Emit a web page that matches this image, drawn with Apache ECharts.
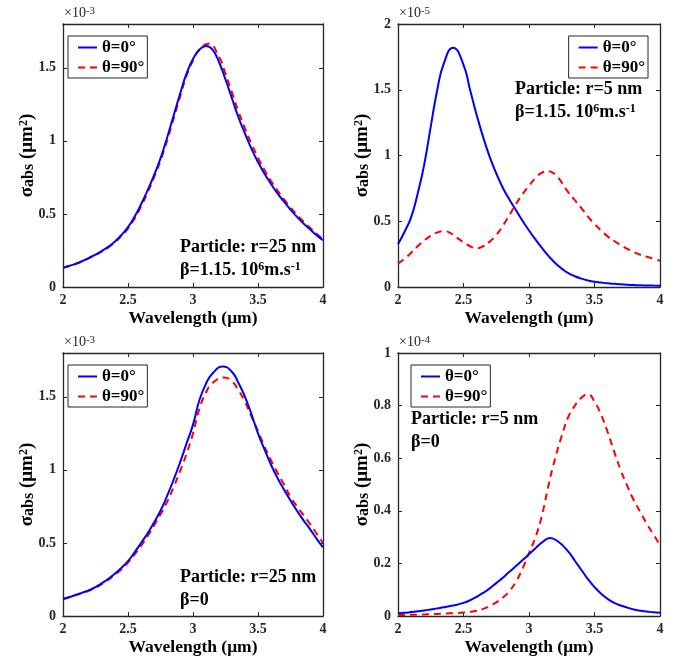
<!DOCTYPE html>
<html><head><meta charset="utf-8">
<script src="https://cdn.jsdelivr.net/npm/echarts@6/dist/echarts.min.js"></script>
<style>html,body{margin:0;padding:0;background:#fff}#c{width:675px;height:663px}</style>
</head><body><div id="c"></div>
<script>
// ---- data ----
const seriesNames = ['θ=0°', 'θ=90°'];
const xTickLabels = ['2', '2.5', '3', '3.5', '4'];
const exponents = ['-3', '-5', '-3', '-4'];
const yMaxes = [1.8, 2, 1.8, 1];
const yIntervals = [0.5, 0.5, 0.5, 0.2];

// Panel 1: r=25 nm, beta=1.15e6 m/s (x1e-3 um^2)
const p1_wl0 = [2.00,2.05,2.10,2.15,2.20,2.25,2.30,2.35,2.40,2.45,2.50,2.55,2.60,2.65,2.70,2.75,2.80,2.85,2.90,2.95,
  3.00,3.05,3.10,3.15,3.20,3.25,3.30,3.35,3.40,3.45,3.50,3.55,3.60,3.65,3.70,3.75,3.80,3.85,3.90,3.95,4.00];
const p1_theta0 = [0.132,0.145,0.160,0.178,0.200,0.222,0.247,0.276,0.312,0.356,0.41,0.48,0.565,0.66,0.765,0.88,1.02,1.17,1.32,1.46,
  1.56,1.625,1.65,1.625,1.54,1.42,1.29,1.16,1.05,0.945,0.855,0.775,0.705,0.64,0.585,0.53,0.48,0.435,0.395,0.355,0.32];
const p1_wl90 = [2.00,2.05,2.10,2.15,2.20,2.25,2.30,2.35,2.40,2.45,2.50,2.55,2.60,2.65,2.70,2.75,2.80,2.85,2.90,2.95,
  3.00,3.05,3.12,3.20,3.25,3.30,3.35,3.40,3.45,3.50,3.55,3.60,3.65,3.70,3.75,3.80,3.85,3.90,3.95,4.00];
const p1_theta90 = [0.132,0.144,0.158,0.176,0.197,0.219,0.243,0.271,0.306,0.349,0.40,0.468,0.55,0.645,0.75,0.865,1.00,1.15,1.30,1.445,
  1.55,1.625,1.665,1.575,1.46,1.33,1.20,1.085,0.98,0.885,0.80,0.725,0.66,0.60,0.545,0.495,0.448,0.405,0.365,0.33];

// Panel 2: r=5 nm, beta=1.15e6 m/s (x1e-5 um^2)
const p2_wl0 = [2.00,2.05,2.10,2.15,2.20,2.25,2.30,2.35,2.42,2.50,2.55,2.60,2.65,2.70,2.75,2.80,2.85,2.90,2.95,
  3.00,3.05,3.10,3.15,3.20,3.25,3.30,3.35,3.40,3.45,3.50,3.55,3.60,3.65,3.70,3.75,3.80,3.85,3.90,3.95,4.00];
const p2_theta0 = [0.325,0.42,0.53,0.71,0.93,1.22,1.50,1.70,1.82,1.69,1.50,1.31,1.14,0.99,0.865,0.755,0.665,0.585,0.505,
  0.43,0.36,0.295,0.235,0.183,0.14,0.105,0.082,0.064,0.05,0.04,0.034,0.028,0.024,0.02,0.017,0.015,0.013,0.012,0.011,0.01];
const p2_wl90 = [2.00,2.05,2.10,2.15,2.20,2.25,2.30,2.35,2.40,2.45,2.50,2.55,2.60,2.65,2.70,2.75,2.80,2.85,2.90,2.95,
  3.00,3.05,3.10,3.15,3.20,3.25,3.30,3.35,3.40,3.45,3.50,3.55,3.60,3.65,3.70,3.75,3.80,3.85,3.90,3.95,4.00];
const p2_theta90 = [0.178,0.215,0.26,0.31,0.355,0.39,0.415,0.425,0.41,0.375,0.34,0.31,0.295,0.31,0.345,0.395,0.465,0.545,0.63,0.705,
  0.77,0.83,0.87,0.88,0.855,0.795,0.72,0.66,0.60,0.535,0.48,0.43,0.385,0.35,0.32,0.29,0.266,0.245,0.23,0.215,0.20];

// Panel 3: r=25 nm, beta=0 (x1e-3 um^2)
const p3_wl0 = [2.00,2.05,2.10,2.15,2.20,2.25,2.30,2.35,2.40,2.45,2.50,2.55,2.60,2.65,2.70,2.75,2.80,2.85,2.90,2.95,
  3.00,3.05,3.10,3.15,3.23,3.30,3.35,3.40,3.45,3.50,3.55,3.60,3.65,3.70,3.75,3.80,3.85,3.90,3.95,4.00];
const p3_theta0 = [0.116,0.13,0.145,0.16,0.177,0.198,0.225,0.255,0.29,0.33,0.375,0.435,0.50,0.565,0.64,0.72,0.82,0.93,1.05,1.18,
  1.31,1.48,1.59,1.66,1.708,1.67,1.595,1.50,1.38,1.25,1.14,1.035,0.945,0.865,0.79,0.72,0.655,0.595,0.53,0.47];
const p3_wl90 = [2.00,2.05,2.10,2.15,2.20,2.25,2.30,2.35,2.40,2.45,2.50,2.55,2.60,2.65,2.70,2.75,2.80,2.85,2.90,2.95,
  3.00,3.05,3.10,3.15,3.24,3.30,3.35,3.40,3.45,3.50,3.55,3.60,3.65,3.70,3.75,3.80,3.85,3.90,3.95,4.00];
const p3_theta90 = [0.115,0.128,0.143,0.158,0.173,0.194,0.22,0.249,0.283,0.32,0.365,0.42,0.48,0.545,0.62,0.695,0.78,0.88,0.99,1.11,
  1.25,1.42,1.53,1.595,1.632,1.605,1.545,1.465,1.365,1.265,1.16,1.065,0.98,0.90,0.815,0.75,0.69,0.63,0.565,0.50];

// Panel 4: r=5 nm, beta=0 (x1e-4 um^2)
const p4_wl0 = [2.00,2.05,2.10,2.15,2.20,2.25,2.30,2.35,2.40,2.45,2.50,2.55,2.60,2.65,2.70,2.75,2.80,2.85,2.90,2.95,
  3.00,3.05,3.10,3.16,3.22,3.30,3.35,3.40,3.45,3.50,3.55,3.60,3.65,3.70,3.75,3.80,3.85,3.90,3.95,4.00];
const p4_theta0 = [0.010,0.012,0.015,0.018,0.021,0.025,0.029,0.033,0.038,0.043,0.050,0.06,0.073,0.088,0.105,0.125,0.145,0.168,0.19,0.212,
  0.235,0.258,0.28,0.297,0.284,0.245,0.21,0.175,0.14,0.11,0.085,0.065,0.05,0.04,0.032,0.025,0.02,0.017,0.014,0.012];
const p4_wl90 = [2.00,2.05,2.10,2.15,2.20,2.25,2.30,2.35,2.40,2.45,2.50,2.55,2.60,2.65,2.70,2.75,2.80,2.85,2.90,2.95,
  3.00,3.05,3.10,3.15,3.20,3.25,3.30,3.35,3.40,3.45,3.50,3.55,3.60,3.65,3.70,3.75,3.80,3.85,3.90,3.95,4.00];
const p4_theta90 = [0.004,0.004,0.005,0.005,0.006,0.007,0.008,0.009,0.010,0.011,0.013,0.016,0.02,0.027,0.038,0.052,0.07,0.095,0.13,0.18,
  0.24,0.30,0.385,0.50,0.60,0.685,0.757,0.80,0.83,0.843,0.815,0.765,0.70,0.625,0.555,0.495,0.44,0.395,0.35,0.31,0.27];

const annotations = [
  ['Particle: r=25 nm', 'β=1.15. 10{s|6}m.s{s|-1}'],
  ['Particle: r=5 nm', 'β=1.15. 10{s|6}m.s{s|-1}'],
  ['Particle: r=25 nm', 'β=0'],
  ['Particle: r=5 nm', 'β=0']
];

// ---- layout ----
const FONT = '"Liberation Serif", "Times New Roman", serif';
const AX = '#262626';
const grids = [
  {left: 63, top: 24, width: 260, height: 263},
  {left: 398, top: 24, width: 262, height: 263},
  {left: 63, top: 353, width: 260, height: 263},
  {left: 398, top: 353, width: 262, height: 263}
];
const legendPos = [
  {left: 68, top: 36}, {right: 27, top: 36}, {left: 68, top: 365}, {left: 411, top: 365}
];
const annoPos = [[180, 238], [515, 80], [180, 568], [411, 410]];

const pairs = (xs, ys) => xs.map((x, i) => [x, ys[i]]);
const panelData = [
  [pairs(p1_wl0, p1_theta0), pairs(p1_wl90, p1_theta90)],
  [pairs(p2_wl0, p2_theta0), pairs(p2_wl90, p2_theta90)],
  [pairs(p3_wl0, p3_theta0), pairs(p3_wl90, p3_theta90)],
  [pairs(p4_wl0, p4_theta0), pairs(p4_wl90, p4_theta90)]
];

const xAxes = [], yAxes = [], series = [], legends = [], graphics = [];
grids.forEach((g, i) => {
  ['bottom', 'top'].forEach(pos => {
    xAxes.push({
      type: 'value', gridIndex: i, position: pos, min: 2, max: 4, interval: 0.5,
      axisLine: {show: true, onZero: false, lineStyle: {color: AX, width: 1.3}},
      axisTick: {show: true, inside: true, length: 4, lineStyle: {color: AX}},
      axisLabel: {show: pos === 'bottom', margin: 6, color: AX, fontFamily: FONT, fontWeight: 'bold', fontSize: 14,
        formatter: v => { const k = Math.round((v - 2) / 0.5); return xTickLabels[k] || ''; }},
      splitLine: {show: false},
      name: pos === 'bottom' ? 'Wavelength (μm)' : '',
      nameLocation: 'middle', nameGap: 22,
      nameTextStyle: {color: '#000', fontFamily: FONT, fontWeight: 'bold', fontSize: 17.5}
    });
  });
  ['left', 'right'].forEach(pos => {
    const iv = yIntervals[i];
    yAxes.push({
      type: 'value', gridIndex: i, position: pos, min: 0, max: yMaxes[i], interval: iv,
      axisLine: {show: true, onZero: false, lineStyle: {color: AX, width: 1.3}},
      axisTick: {show: true, inside: true, length: 4, lineStyle: {color: AX}},
      axisLabel: {show: pos === 'left', margin: 7, color: AX, fontFamily: FONT, fontWeight: 'bold', fontSize: 14,
        formatter: v => { const r = v / iv; return Math.abs(r - Math.round(r)) < 1e-6 ? String(+v.toFixed(2)) : ''; }},
      splitLine: {show: false},
      name: pos === 'left' ? '{a|σ}{b|abs}{a| (μm}{c|2}{a|)}' : '',
      nameLocation: 'middle', nameGap: 26, nameMoveOverlap: false,
      nameTextStyle: {
        color: '#000', fontFamily: FONT, fontWeight: 'bold', fontSize: 19,
        rich: {
          a: {fontFamily: FONT, fontWeight: 'bold', fontSize: 19, color: '#000'},
          b: {fontFamily: FONT, fontWeight: 'bold', fontSize: 16, color: '#000', verticalAlign: 'bottom'},
          c: {fontFamily: FONT, fontWeight: 'bold', fontSize: 12, color: '#000', verticalAlign: 'top'}
        }
      }
    });
  });
  const [d0, d90] = panelData[i];
  series.push({
    name: seriesNames[1], type: 'line', xAxisIndex: 2 * i, yAxisIndex: 2 * i, data: d90,
    showSymbol: false, symbol: 'none', smooth: 0.5, z: 2,
    lineStyle: {color: '#ff0000', width: 2, type: [7, 5]}, itemStyle: {color: '#ff0000'}
  });
  series.push({
    name: seriesNames[0], type: 'line', xAxisIndex: 2 * i, yAxisIndex: 2 * i, data: d0,
    showSymbol: false, symbol: 'none', smooth: 0.5, z: 3,
    lineStyle: {color: '#0000ff', width: 2}, itemStyle: {color: '#0000ff'}
  });
  legends.push(Object.assign({
    orient: 'vertical', data: seriesNames.slice(),
    backgroundColor: '#fff', borderColor: AX, borderWidth: 1, borderRadius: 0,
    padding: [3, 3, 2, 9], itemWidth: 19, itemHeight: 14, itemGap: 3, selectedMode: false,
    itemStyle: {opacity: 0},
    textStyle: {color: '#000', fontFamily: FONT, fontWeight: 'bold', fontSize: 17}
  }, legendPos[i]));
  // exponent label
  graphics.push({
    type: 'text', left: g.left + 1, top: g.top - 18,
    style: {
      text: '×10{s|' + exponents[i] + '}', fill: AX, fontFamily: FONT, fontSize: 14,
      rich: {s: {fontFamily: FONT, fontSize: 11, fill: AX, verticalAlign: 'top'}}
    }
  });
  annotations[i].forEach((t, j) => {
    graphics.push({
      type: 'text', left: annoPos[i][0], top: annoPos[i][1] + j * 23,
      style: {
        text: t, fill: '#000', fontFamily: FONT, fontWeight: 'bold', fontSize: 18,
        rich: {s: {fontFamily: FONT, fontWeight: 'bold', fontSize: 12, fill: '#000', verticalAlign: 'top'}}
      }
    });
  });
});

const chart = echarts.init(document.getElementById('c'), null, {renderer: 'canvas'});
chart.setOption({
  animation: false,
  backgroundColor: '#fff',
  grid: grids,
  xAxis: xAxes,
  yAxis: yAxes,
  legend: legends,
  series: series,
  graphic: graphics
});
</script></body></html>
